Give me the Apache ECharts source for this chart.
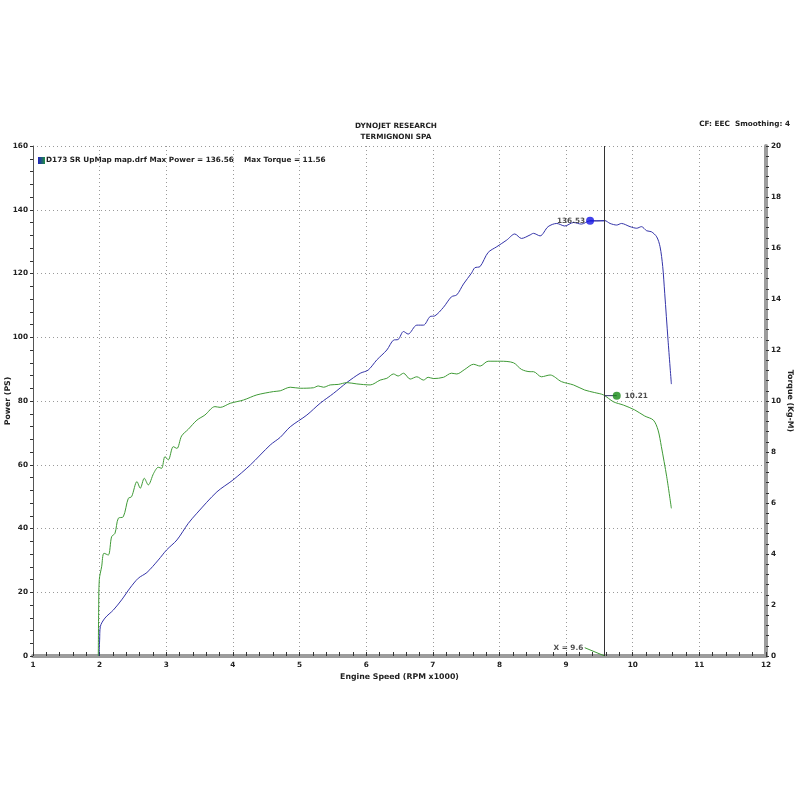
<!DOCTYPE html>
<html>
<head>
<meta charset="utf-8">
<script src="https://cdn.jsdelivr.net/npm/echarts@6/dist/echarts.min.js"></script>
<style>
  html, body { margin: 0; padding: 0; background: #fff; }
  #chart { width: 800px; height: 800px; }
</style>
</head>
<body>
<div id="chart"></div>
<script>
// ─── Dyno sheet: power (PS, left) + torque (Kg-M, right) vs engine speed ─────
const powerRpm = [1.99, 2.0, 2.01, 2.08, 2.205, 2.33, 2.455, 2.58, 2.71, 2.88, 3.006, 3.16, 3.33, 3.46, 3.76, 4.0,
  4.26, 4.56, 4.71, 4.86, 5.11, 5.31, 5.51, 5.71, 5.91, 6.03, 6.16, 6.31, 6.41, 6.48, 6.56, 6.63, 6.76, 6.86,
  6.96, 7.03, 7.16, 7.28, 7.36, 7.46, 7.58, 7.63, 7.71, 7.83, 7.96, 8.11, 8.23, 8.33, 8.46, 8.51, 8.61, 8.73,
  8.86, 8.98, 9.11, 9.23, 9.36, 9.46, 9.58, 9.66, 9.76, 9.83, 9.96, 10.06, 10.13, 10.21, 10.28, 10.36, 10.41,
  10.45, 10.48, 10.53, 10.58];
const powerPs = [0, 5, 9.2, 11.9, 14.4, 17.6, 21.3, 24.4, 26.2, 30.1, 33.3, 36.4, 41.6, 44.8, 51.5, 55.2,
  59.9, 66.2, 68.6, 71.9, 75.6, 79.3, 82.4, 85.8, 88.7, 89.7, 92.9, 96, 99.1, 99.3, 101.8, 101, 103.8, 103.8,
  106.5, 106.7, 109.4, 112.7, 113.3, 116.7, 120.1, 121.8, 122.2, 126.6, 128.4, 130.5, 132.4, 131, 132.1, 132.6, 131.8, 134.7,
  135.7, 134.9, 136, 135.5, 136.53, 136.5, 136.6, 135.7, 135.2, 135.7, 134.7, 134.2, 134.7, 133.4, 133.1, 131.5, 128.4,
  122.2, 113.8, 99.1, 85.3];

const torqueRpm = [1.98, 1.985, 1.995, 2.03, 2.065, 2.13, 2.18, 2.23, 2.28, 2.355, 2.43, 2.48, 2.56, 2.61, 2.67,
  2.73, 2.81, 2.88, 2.93, 2.98, 3.03, 3.105, 3.16, 3.23, 3.33, 3.46, 3.58, 3.73, 3.81, 3.96, 4.16, 4.36, 4.61,
  4.71, 4.86, 5.01, 5.21, 5.28, 5.36, 5.46, 5.58, 5.71, 5.86, 6.06, 6.21, 6.31, 6.41, 6.48, 6.56, 6.66, 6.76,
  6.86, 6.93, 7.01, 7.16, 7.28, 7.36, 7.48, 7.61, 7.71, 7.83, 8.01, 8.21, 8.33, 8.46, 8.51, 8.63, 8.76, 8.93,
  9.11, 9.28, 9.43, 9.56, 9.71, 9.86, 10.03, 10.18, 10.31, 10.38, 10.43, 10.51, 10.58];
const torqueKgm = [0, 1.7, 3.0, 3.5, 4.03, 3.96, 4.68, 4.81, 5.4, 5.46, 6.18, 6.25, 6.84, 6.58, 6.97,
  6.71, 7.16, 7.4, 7.36, 7.82, 7.69, 8.21, 8.14, 8.63, 8.89, 9.25, 9.45, 9.78, 9.75, 9.91, 10.04, 10.24, 10.37,
  10.4, 10.54, 10.5, 10.52, 10.59, 10.54, 10.63, 10.65, 10.72, 10.67, 10.63, 10.82, 10.89, 11.06, 10.98, 11.09, 10.86, 10.95,
  10.82, 10.93, 10.88, 10.93, 11.09, 11.06, 11.24, 11.44, 11.37, 11.56, 11.56, 11.5, 11.24, 11.15, 11.15, 10.95, 11.02, 10.76,
  10.63, 10.43, 10.33, 10.24, 9.97, 9.84, 9.65, 9.41, 9.25, 8.86, 8.21, 7.03, 5.79];

// cursor + readouts
const cursorRpm = 9.58;
const cursorLabel = 'X = 9.6';
const cursorTag = [[9.28, 2.6], [9.58, 0]];
const peakPower = [9.36, 136.53];
const torqueReadout = [9.76, 10.21];

const legendText = 'D173 SR UpMap map.drf Max Power = 136.56    Max Torque = 11.56';
const titleLines = ['DYNOJET RESEARCH', 'TERMIGNONI SPA'];
const cornerNote = 'CF: EEC  Smoothing: 4';

const BLUE = '#3434a8', GREEN = '#3f9a36';
const FONT = 'DejaVu Sans';
const FS = 7.3;
const zip = (xs, ys) => xs.map((x, i) => [x, ys[i]]);
const txt = { fontFamily: FONT, fontWeight: 'bold', fontSize: FS, color: '#222' };
const gtxt = (text) => ({ text, fontFamily: FONT, fontWeight: 'bold', fontSize: FS, fill: '#222', align: 'center' });

const chart = echarts.init(document.getElementById('chart'), null, { renderer: 'canvas' });
chart.setOption({
  animation: false,
  textStyle: { fontFamily: FONT },
  grid: { left: 33, right: 34, top: 146, bottom: 144, containLabel: false, outerBoundsMode: 'none' },
  xAxis: {
    type: 'value', min: 1, max: 12, interval: 1,
    name: 'Engine Speed (RPM x1000)', nameLocation: 'middle', nameGap: 17, nameMoveOverlap: false,
    nameTextStyle: { ...txt, fontSize: 7.8 },
    axisLine: { show: true, lineStyle: { color: '#9c9c9c', width: 4 } },
    axisTick: { show: true, inside: true, length: 4, lineStyle: { color: '#333' } },
    minorTick: { show: true, splitNumber: 5, length: 4, lineStyle: { color: '#333' } },
    axisLabel: { ...txt, margin: 6 },
    splitLine: { show: true, lineStyle: { color: '#9a9a9a', type: [1, 3] } },
  },
  yAxis: [{
    type: 'value', min: 0, max: 160, interval: 20, position: 'left',
    name: 'Power (PS)', nameLocation: 'middle', nameGap: 25, nameRotate: 90, nameMoveOverlap: false,
    nameTextStyle: { ...txt, fontSize: 7.8, verticalAlign: 'middle' },
    axisLine: { show: true, lineStyle: { color: '#555', width: 1 } },
    axisTick: { show: true, length: 3, lineStyle: { color: '#333' } },
    minorTick: { show: true, splitNumber: 5, length: 3, lineStyle: { color: '#333' } },
    axisLabel: { ...txt, margin: 5 },
    splitLine: { show: true, lineStyle: { color: '#9a9a9a', type: [1, 3] } },
  }, {
    type: 'value', min: 0, max: 20, interval: 2, position: 'right',
    name: 'Torque (Kg-M)', nameLocation: 'middle', nameGap: 24, nameRotate: -90, nameMoveOverlap: false,
    nameTextStyle: { ...txt, fontSize: 7.8, verticalAlign: 'middle' },
    axisLine: { show: true, lineStyle: { color: '#9c9c9c', width: 4 } },
    axisTick: { show: true, length: 3, lineStyle: { color: '#333' } },
    minorTick: { show: true, splitNumber: 5, length: 3, lineStyle: { color: '#333' } },
    axisLabel: { ...txt, margin: 5 },
    splitLine: { show: false },
  }],
  series: [
    {
      name: 'Power', type: 'line', yAxisIndex: 0, data: zip(powerRpm, powerPs),
      showSymbol: false, smooth: 0.3, lineStyle: { color: BLUE, width: 1 }, itemStyle: { color: BLUE },
      markLine: {
        silent: true, symbol: 'none', label: { show: false },
        lineStyle: { color: '#333', width: 1, type: 'solid' },
        data: [{ xAxis: cursorRpm }],
      },
    },
    {
      name: 'Torque', type: 'line', yAxisIndex: 1, data: zip(torqueRpm, torqueKgm),
      showSymbol: false, smooth: 0.3, lineStyle: { color: GREEN, width: 1 }, itemStyle: { color: GREEN },
    },
    { // power readout connector
      type: 'line', yAxisIndex: 0, data: [peakPower, [cursorRpm, peakPower[1]]],
      showSymbol: false, lineStyle: { color: BLUE, width: 1 },
    },
    { // torque readout connector
      type: 'line', yAxisIndex: 1, data: [[cursorRpm, torqueReadout[1]], torqueReadout],
      showSymbol: false, lineStyle: { color: '#333366', width: 1 },
    },
    { // cursor tag leader
      type: 'line', yAxisIndex: 0, showSymbol: false, data: cursorTag,
      lineStyle: { color: GREEN, width: 1 },
    },
    { // cursor tag text
      type: 'scatter', yAxisIndex: 0, symbolSize: 1, data: [cursorTag[0]],
      itemStyle: { color: 'rgba(0,0,0,0)' },
      label: { show: true, position: 'left', distance: 1, formatter: cursorLabel, ...txt },
    },
    {
      type: 'scatter', yAxisIndex: 0, z: 5, symbolSize: 8, data: [peakPower],
      itemStyle: { color: '#1414e6' },
      label: { show: true, position: 'left', distance: 1, formatter: (p) => p.value[1].toFixed(2), ...txt },
    },
    {
      type: 'scatter', yAxisIndex: 1, z: 5, symbolSize: 8, data: [torqueReadout],
      itemStyle: { color: '#178a17' },
      label: { show: true, position: 'right', distance: 4, formatter: (p) => p.value[1].toFixed(2), ...txt },
    },
  ],
  graphic: [
    { type: 'text', x: 396, y: 123, style: gtxt(titleLines[0]) },
    { type: 'text', x: 396, y: 134, style: gtxt(titleLines[1]) },
    { type: 'text', right: 10, top: 121, style: { ...gtxt(cornerNote), align: 'left' } },
    {
      type: 'rect', left: 38, top: 157, shape: { width: 7, height: 7 },
      style: { fill: new echarts.graphic.LinearGradient(0, 0, 1, 0, [{ offset: 0, color: '#2020c0' }, { offset: 1, color: '#209040' }]) },
    },
    { type: 'text', left: 46, top: 157, style: { ...gtxt(legendText), align: 'left' } },
  ],
});
</script>
</body>
</html>
